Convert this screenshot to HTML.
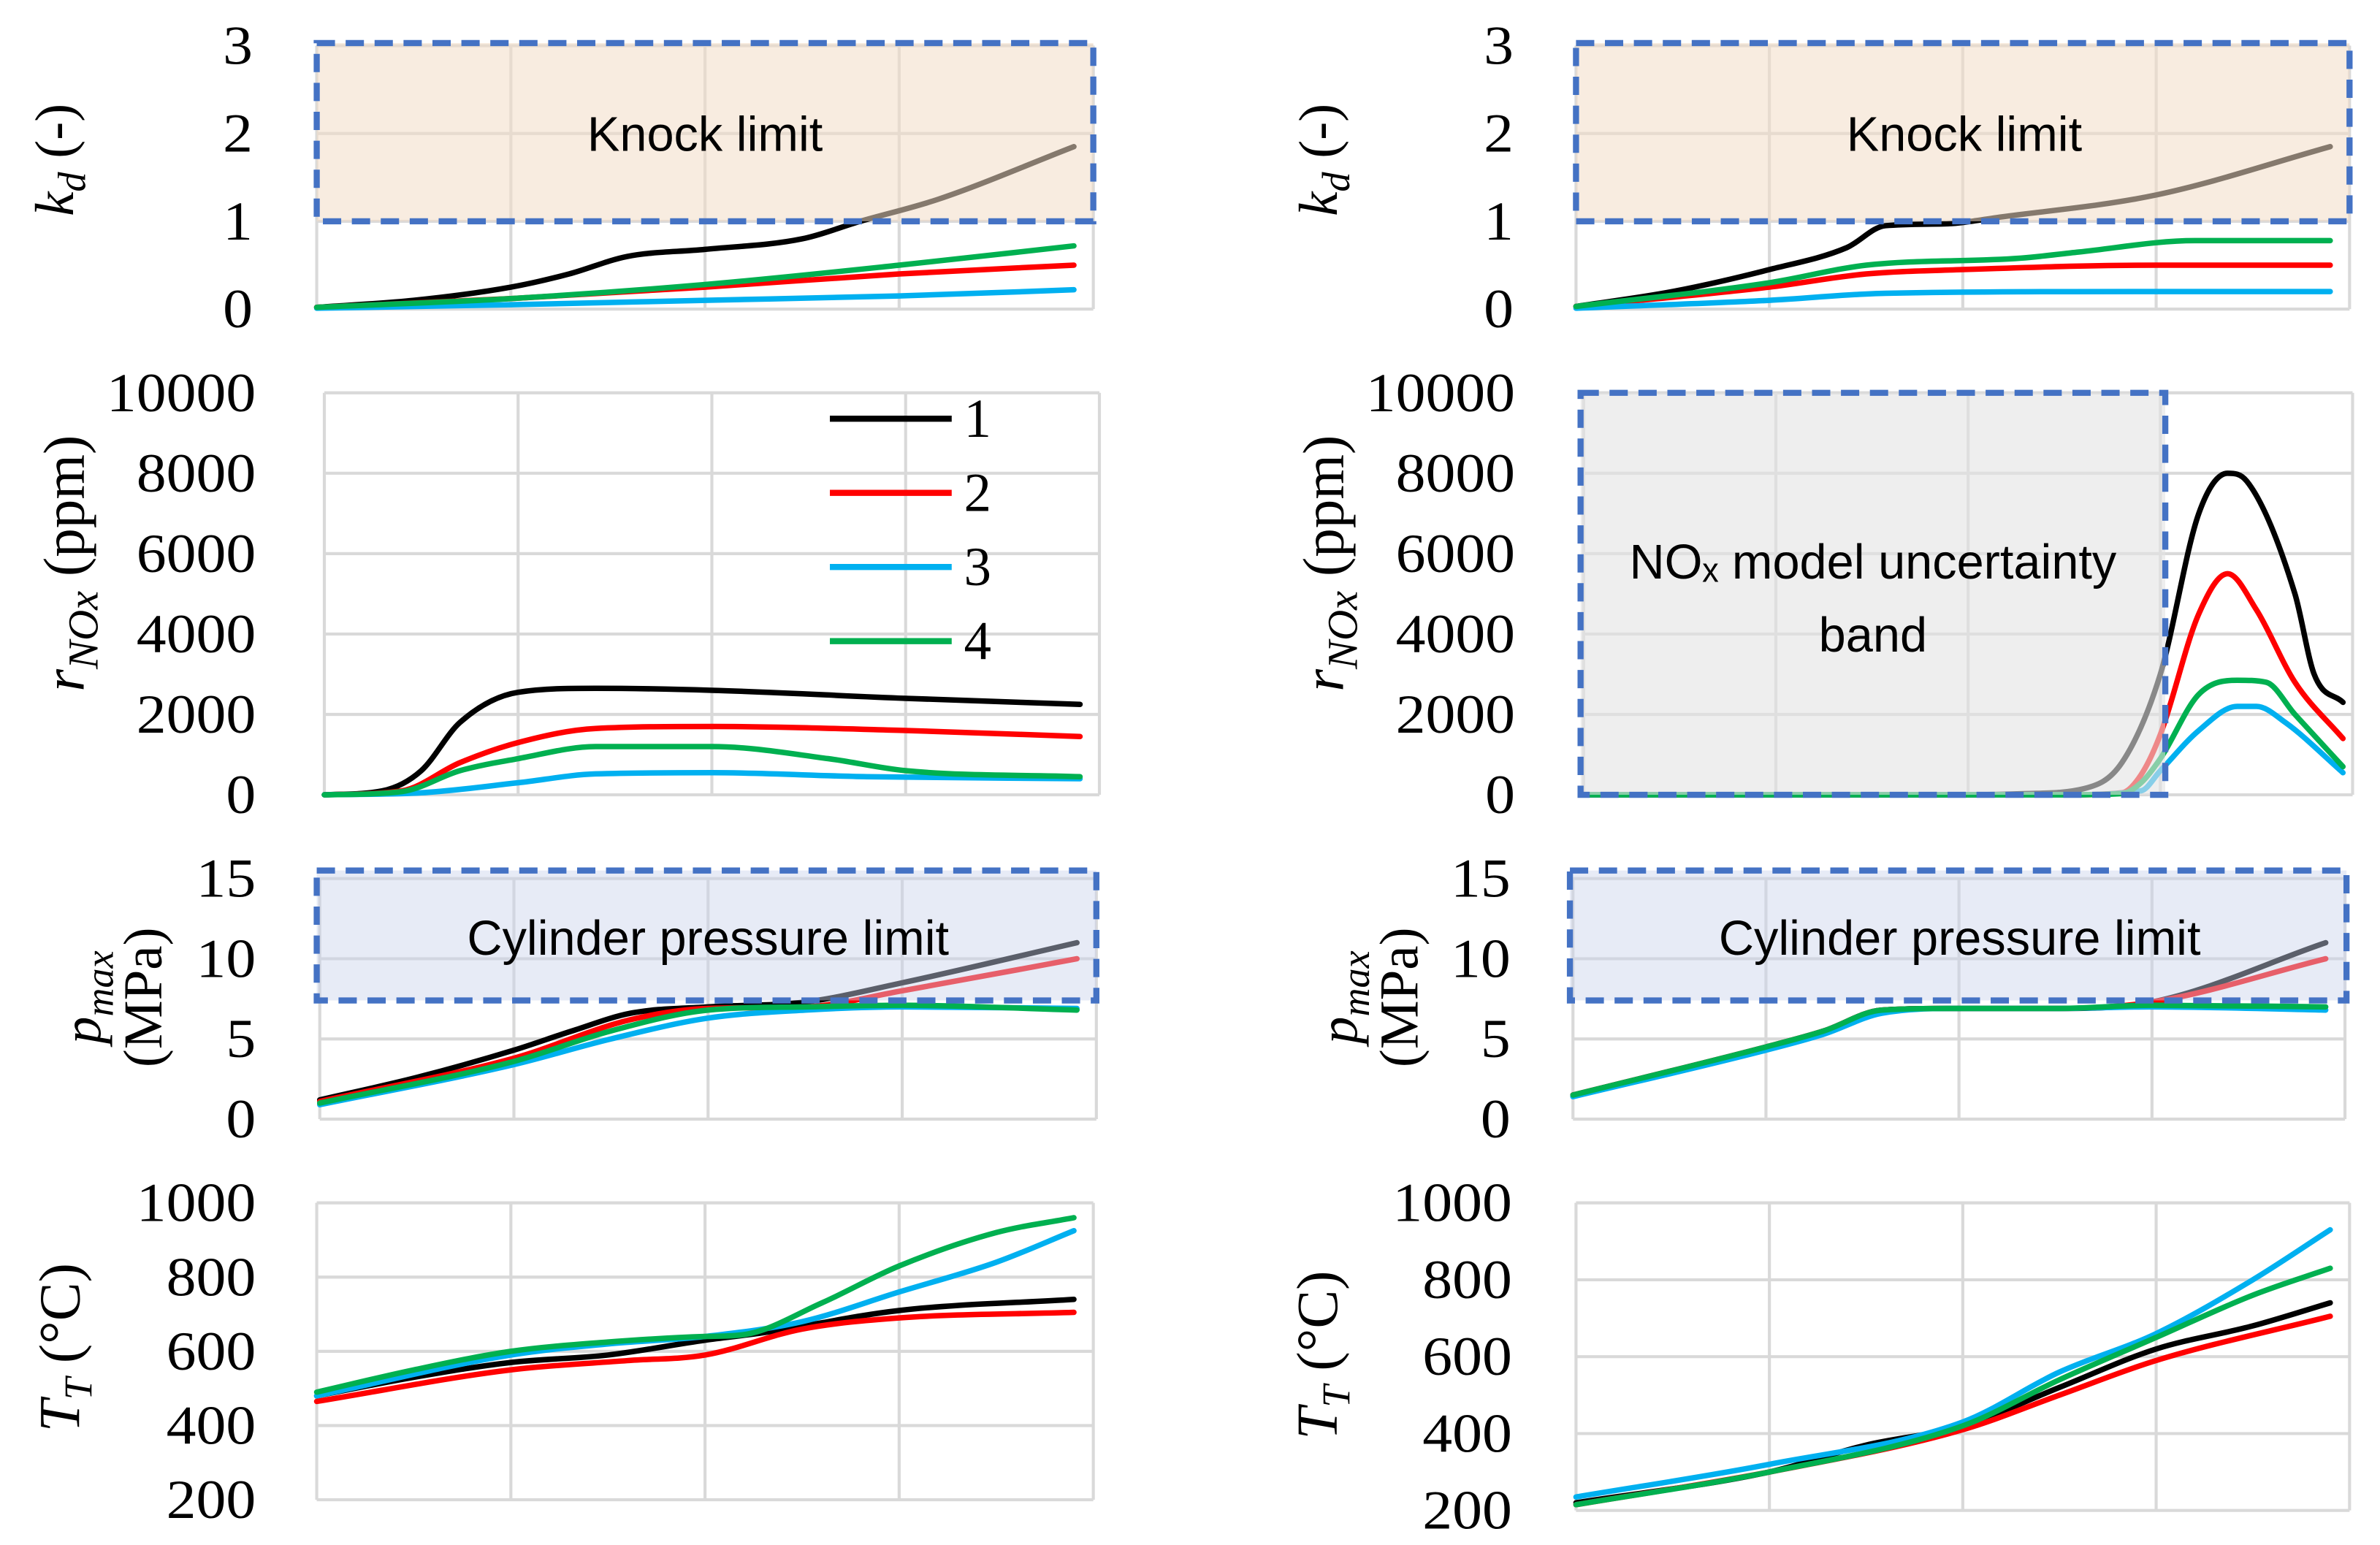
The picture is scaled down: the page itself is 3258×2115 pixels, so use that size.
<!DOCTYPE html>
<html><head><meta charset="utf-8"><style>
html,body{margin:0;padding:0;background:#fff}
svg{display:block}
text{font-family:"Liberation Serif",serif;fill:#000}
.sans{font-family:"Liberation Sans",sans-serif}
</style></head><body>
<svg id="chart" width="3258" height="2115" viewBox="0 0 1563 1014.7" preserveAspectRatio="none" xmlns="http://www.w3.org/2000/svg"></svg>
<script>
// ---- data (x in grid units 0..4) ----
const seriesNames = ["1","2","3","4"];
const seriesColors = ["#000000","#ff0000","#00b0f0","#00b050"];
// kd left
const kdL_x = [[0,0.5,1,1.3,1.6,2,2.5,2.8,3.2,3.9],[0,1,2,3,3.9],[0,1,2,3,3.9],[0,1,2,3,3.9]];
const kdL_y = [[0.02,0.1,0.25,0.4,0.6,0.68,0.8,1.0,1.25,1.85],[0.02,0.12,0.25,0.4,0.5],[0.01,0.05,0.1,0.15,0.22],[0.02,0.12,0.28,0.5,0.72]];
// kd right
const kdR_x = [[0,0.5,1,1.4,1.6,1.9,2.2,3,3.9],[0,1,1.5,2,3,3.9],[0,1,1.6,3,3.9],[0,1,1.5,2.3,2.6,3.2,3.9]];
const kdR_y = [[0.03,0.2,0.45,0.7,0.95,0.97,1.05,1.3,1.85],[0.03,0.25,0.4,0.45,0.5,0.5],[0.01,0.1,0.18,0.2,0.2],[0.03,0.3,0.5,0.58,0.65,0.78,0.78]];
// NOx left
const noxL_x = [[0,0.3,0.5,0.7,1,1.4,2,3,3.9],[0,0.4,0.7,1,1.4,2,3,3.9],[0,0.5,1,1.4,2,2.8,3.9],[0,0.4,0.7,1,1.4,2,2.6,3,3.9]];
const noxL_y = [[0,100,600,1800,2550,2650,2600,2400,2250],[0,100,800,1300,1650,1700,1600,1450],[0,50,300,520,550,450,400],[0,80,600,900,1200,1200,900,600,450]];
// NOx right
const noxR_x = [[0,2,2.3,2.6,2.8,3.0,3.2,3.35,3.45,3.7,3.8,3.95],[0,2.5,2.8,2.9,3.0,3.2,3.35,3.5,3.7,3.95],[0,2.5,2.9,3.0,3.2,3.4,3.5,3.65,3.95],[0,2.5,2.8,2.9,3.0,3.2,3.4,3.55,3.7,3.95]];
const noxR_y = [[0,0,30,150,800,3000,7000,8000,7800,5000,3000,2300],[0,0,50,500,1500,4500,5500,4600,2800,1400],[0,0,100,600,1600,2200,2200,1800,550],[0,0,30,300,900,2500,2850,2800,2000,700]];
// pmax left
const pL_x = [[0,0.5,1,1.3,1.6,2,2.5,3,3.9],[0,1,1.6,2,2.5,3,3.9],[0,1,1.5,2,2.5,3,3.9],[0,1,1.5,2,2.5,3,3.9]];
const pL_y = [[1.2,2.6,4.3,5.5,6.6,7,7.3,8.5,11],[1.1,3.8,6.2,6.9,7,8,10],[0.9,3.4,5,6.3,6.8,7,6.9],[1,3.6,5.5,6.8,7,7.1,6.8]];
// pmax right
const pR_x = [[0,1,1.3,1.6,2,2.5,3,3.9],[0,1,1.3,1.6,2,2.5,3,3.9],[0,1,1.3,1.6,2,2.5,3,3.9],[0,1,1.3,1.6,2,2.5,3,3.9]];
const pR_y = [[1.5,4.5,5.5,6.8,6.9,6.9,7.3,11],[1.5,4.5,5.5,6.8,6.9,6.9,7.3,10],[1.4,4.3,5.3,6.6,6.9,6.9,7.0,6.8],[1.5,4.5,5.5,6.8,6.9,6.9,7.1,7.0]];
// TT left
const tL_x = [[0,0.5,1,1.5,2,2.3,3,3.9],[0,1,1.6,2,2.5,3,3.9],[0,1,1.5,2,2.5,3,3.5,3.9],[0,0.5,1,1.5,2,2.2,2.6,3,3.5,3.9]];
const tL_y = [[480,530,570,590,630,650,710,740],[465,550,575,590,660,690,705],[480,590,620,640,680,760,840,925],[490,550,600,625,640,645,730,830,920,960]];
// TT right
const tR_x = [[0,1,1.5,2,2.5,3,3.5,3.9],[0,1,2,2.5,3,3.9],[0,1,2,2.5,3,3.5,3.9],[0,1,2,2.5,3,3.5,3.9]];
const tR_y = [[220,300,370,420,520,620,680,740],[215,300,410,500,590,705],[235,320,430,560,660,800,930],[215,300,420,540,650,760,830]];
const kdTicks=[0,1,2,3], noxTicks=[0,2000,4000,6000,8000,10000], pTicks=[0,5,10,15], tTicks=[200,400,600,800,1000];

const NS="http://www.w3.org/2000/svg";
const svg=document.getElementById('chart');
function mk(tag,attrs,parent){const e=document.createElementNS(NS,tag);for(const k in attrs)e.setAttribute(k,attrs[k]);(parent||svg).appendChild(e);return e;}
// monotone cubic (Fritsch-Carlson) in x
function pathFrom(p){
  const n=p.length;if(n<2)return "";
  const d=[],m=[];
  for(let i=0;i<n-1;i++)d.push((p[i+1][1]-p[i][1])/(p[i+1][0]-p[i][0]));
  m[0]=d[0];m[n-1]=d[n-2];
  for(let i=1;i<n-1;i++){m[i]=(d[i-1]*d[i]<=0)?0:(d[i-1]+d[i])/2;}
  for(let i=0;i<n-1;i++){if(d[i]===0){m[i]=0;m[i+1]=0;continue;}const a=m[i]/d[i],b=m[i+1]/d[i],s=a*a+b*b;if(s>9){const t=3/Math.sqrt(s);m[i]=t*a*d[i];m[i+1]=t*b*d[i];}}
  let s="M"+p[0][0]+","+p[0][1];
  for(let i=0;i<n-1;i++){const h=(p[i+1][0]-p[i][0])/3;
    s+=" C"+(p[i][0]+h)+","+(p[i][1]+m[i]*h)+" "+(p[i+1][0]-h)+","+(p[i+1][1]-m[i+1]*h)+" "+p[i+1][0]+","+p[i+1][1];}
  return s;
}

function panel(o){
  const g=mk('g',{});
  
  
  const xs=v=>o.x0+(o.x1-o.x0)*v/4;
  const ys=v=>o.y0+(o.y1-o.y0)*(v-o.ymin)/(o.ymax-o.ymin);
  for(let i=0;i<=4;i++){const l=mk('line',{x1:xs(i),x2:xs(i),y1:ys(o.ymin),y2:ys(o.ymax),stroke:"#d9d9d9","stroke-width":2},g);
    }
  o.ticks.forEach(t=>{const l=mk('line',{x1:o.x0,x2:o.x1,y1:ys(t),y2:ys(t),stroke:"#d9d9d9","stroke-width":2},g);
    
    const tx=mk('text',{x:o.tickX,y:ys(t)+12,"text-anchor":"end","font-size":36,transform:"",textLength:String(t).length*19.6,lengthAdjust:"spacingAndGlyphs"},g);tx.textContent=t;
    });
  for(let s=0;s<4;s++){const pts=o.xd[s].map((xv,i)=>[xs(xv),ys(o.yd[s][i])]);
    const p=mk('path',{d:pathFrom(pts),fill:"none",stroke:seriesColors[s],"stroke-width":3.6,"stroke-linejoin":"round","stroke-linecap":"round"},g);
    }
  if(o.box){const b=o.box;const r=mk('rect',{x:b.x,y:ys(b.top),width:b.w,height:ys(b.bot)-ys(b.top),fill:b.fill,"fill-opacity":b.op,stroke:"#4472c4","stroke-width":4,"stroke-dasharray":"12,7"},g);
    
    b.lines.forEach((ln,i)=>{const t=mk('text',{x:b.tx,y:b.ty+i*48,"text-anchor":"middle","font-size":32,class:"sans"},g);t.textContent=ln;
      });}
  const tg=mk('g',{transform:"translate("+o.titleX+","+o.titleY+") rotate(-90)"},g);
  
  o.title(tg);
}
function kdTitle(g){const t=mk('text',{"text-anchor":"middle","font-size":36},g);t.innerHTML='<tspan font-style="italic">k</tspan><tspan font-style="italic" font-size="26" dy="8">d</tspan><tspan dy="-8"> (-)</tspan>';}
function noxTitle(g){const t=mk('text',{"text-anchor":"middle","font-size":38},g);t.innerHTML='<tspan font-style="italic">r</tspan><tspan font-style="italic" font-size="28" dy="9">NOx</tspan><tspan dy="-9"> (ppm)</tspan>';}
function pTitle(g){const t=mk('text',{"text-anchor":"middle","font-size":36,y:-14},g);t.innerHTML='<tspan font-style="italic">p</tspan><tspan font-style="italic" font-size="26" dy="8">max</tspan>';
  const t2=mk('text',{"text-anchor":"middle","font-size":36,y:26},g);t2.textContent="(MPa)";}
function tTitle(g){const t=mk('text',{"text-anchor":"middle","font-size":38},g);t.innerHTML='<tspan font-style="italic">T</tspan><tspan font-style="italic" font-size="26" dy="8">T</tspan><tspan dy="-8"> (°C)</tspan>';}

const knockFill="#f2dcc6", pFill="#c9d3ea";
panel({name:"kd-left-panel",x0:208,x1:718,y0:203,y1:30,ymin:0,ymax:3,ticks:kdTicks,tickX:166,xd:kdL_x,yd:kdL_y,titleX:48,titleY:105,title:kdTitle,
  box:{x:208,w:510,top:3.03,bot:1.0,fill:knockFill,op:0.55,nm:"knock-limit-box",tx:463,ty:99,lines:["Knock limit"]}});
panel({name:"kd-right-panel",x0:1035,x1:1543,y0:203,y1:30,ymin:0,ymax:3,ticks:kdTicks,tickX:994,xd:kdR_x,yd:kdR_y,titleX:878,titleY:105,title:kdTitle,
  box:{x:1035,w:508,top:3.03,bot:1.0,fill:knockFill,op:0.55,nm:"knock-limit-box",tx:1290,ty:99,lines:["Knock limit"]}});
panel({name:"nox-left-panel",x0:213,x1:722,y0:522,y1:258,ymin:0,ymax:10000,ticks:noxTicks,tickX:168,xd:noxL_x,yd:noxL_y,titleX:55,titleY:370,title:noxTitle});
panel({name:"nox-right-panel",x0:1040,x1:1545,y0:522,y1:258,ymin:0,ymax:10000,ticks:noxTicks,tickX:995,xd:noxR_x,yd:noxR_y,titleX:882,titleY:370,title:noxTitle,
  box:{x:1038,w:384,top:10000,bot:0,fill:"#e3e3e3",op:0.6,nm:"nox-uncertainty-band",tx:1230,ty:380,lines:["NOₓ model uncertainty","band"]}});
panel({name:"pmax-left-panel",x0:210,x1:720,y0:735,y1:577,ymin:0,ymax:15,ticks:pTicks,tickX:168,xd:pL_x,yd:pL_y,titleX:80,titleY:655,title:pTitle,
  box:{x:208,w:512,top:15.5,bot:7.4,fill:pFill,op:0.45,nm:"cylinder-pressure-limit-box",tx:465,ty:627,lines:["Cylinder pressure limit"]}});
panel({name:"pmax-right-panel",x0:1033,x1:1540,y0:735,y1:577,ymin:0,ymax:15,ticks:pTicks,tickX:992,xd:pR_x,yd:pR_y,titleX:905,titleY:655,title:pTitle,
  box:{x:1031,w:510,top:15.5,bot:7.4,fill:pFill,op:0.45,nm:"cylinder-pressure-limit-box",tx:1287,ty:627,lines:["Cylinder pressure limit"]}});
panel({name:"tt-left-panel",x0:208,x1:718,y0:985,y1:790,ymin:200,ymax:1000,ticks:tTicks,tickX:168,xd:tL_x,yd:tL_y,titleX:52,titleY:885,title:tTitle});
panel({name:"tt-right-panel",x0:1035,x1:1543,y0:992,y1:790,ymin:200,ymax:1000,ticks:tTicks,tickX:993,xd:tR_x,yd:tR_y,titleX:878,titleY:890,title:tTitle});

// legend
const lg=mk('g',{});


seriesNames.forEach((n,i)=>{const y=275+i*48.7;
  const l=mk('line',{x1:545,x2:625,y1:y,y2:y,stroke:seriesColors[i],"stroke-width":4},lg);
  
  
  const t=mk('text',{x:633,y:y+12,"font-size":36},lg);t.textContent=n;
  
  });
</script>
</body></html>
